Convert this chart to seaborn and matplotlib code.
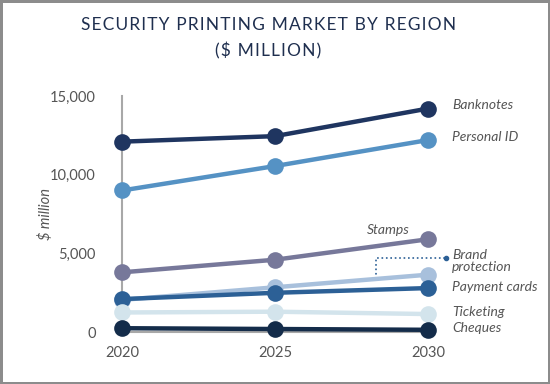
import matplotlib
matplotlib.use("Agg")
import matplotlib.pyplot as plt
import seaborn as sns
import numpy as np
import pandas as pd

### chart data
years = [2020, 2025, 2030]
segments = ["Banknotes", "Personal ID", "Stamps", "Brand protection",
            "Payment cards", "Ticketing", "Cheques"]
banknotes = [12100, 12450, 14200]
personal_id = [9000, 10550, 12200]
stamps = [3800, 4600, 5900]
brand_protection = [2050, 2850, 3650]
payment_cards = [2100, 2500, 2800]
ticketing = [1250, 1300, 1150]
cheques = [250, 200, 150]
colors = ["#1f3560", "#5592c4", "#77789a", "#a8c0dc", "#2c6096", "#d3e4ec", "#142c4a"]
y_ticks = [0, 5000, 10000, 15000]
title_lines = ["SECURITY PRINTING MARKET BY REGION", "($ MILLION)"]

series = [banknotes, personal_id, stamps, brand_protection, payment_cards, ticketing, cheques]
df = pd.DataFrame({
    "year": years * len(segments),
    "segment": [s for s in segments for _ in years],
    "value": [v for vals in series for v in vals],
})

sns.set_style("white")
plt.rcParams["font.family"] = ["Lato", "DejaVu Sans"]

fig = plt.figure(figsize=(5.5, 3.84), dpi=100)
fig.patch.set_edgecolor("#8c8c8c")
fig.patch.set_linewidth(2.5)
ax = fig.add_axes([0.222, 0.135, 0.556, 0.615])

sns.lineplot(data=df, x="year", y="value", hue="segment", hue_order=segments,
             palette=colors, marker="o", markersize=12, markeredgewidth=0,
             linewidth=3.2, legend=False, ax=ax)
for line in ax.lines:
    line.set_clip_on(False)
    line.set_zorder(3)

ax.set_xlim(2020, 2030)
ax.set_ylim(0, 15000)
ax.set_xticks(years)
ax.set_yticks(y_ticks)
ax.set_yticklabels([f"{t:,}" for t in y_ticks])
ax.tick_params(axis="x", length=0, pad=10, labelsize=10.5, colors="#555555")
ax.tick_params(axis="y", direction="in", length=5, width=1, color="#a0a0a0",
               pad=19, labelsize=10.5, labelcolor="#555555")
ax.set_xlabel("")
ax.set_ylabel("$ million", fontsize=10.5, style="italic", color="#555555", labelpad=-2)
for side in ["top", "right"]:
    ax.spines[side].set_visible(False)
for side in ["left", "bottom"]:
    ax.spines[side].set_color("#a8a8a8")
    ax.spines[side].set_linewidth(1.5)
    ax.spines[side].set_zorder(1)

# series labels at the right
lab = dict(fontsize=10, style="italic", color="#555555", va="center")
ax.text(2030.8, banknotes[-1] + 200, "Banknotes", **lab)
ax.text(2030.8, personal_id[-1] + 200, "Personal ID", **lab)
ax.text(2029.4, stamps[-1] + 600, "Stamps", ha="right", **lab)
ax.text(2030.8, 4550, "Brand\nprotection", linespacing=1.0, **lab)
ax.text(2030.8, payment_cards[-1] + 50, "Payment cards", **lab)
ax.text(2030.8, ticketing[-1] + 100, "Ticketing", **lab)
ax.text(2030.8, cheques[-1] + 100, "Cheques", **lab)

# dotted leader for brand protection
x_lead = 2028.3
y_lead = np.interp(x_lead, years, brand_protection)
ax.plot([x_lead, x_lead, 2030.6], [y_lead, 4700, 4700], ls=":", lw=1.2,
        color="#2c6096", clip_on=False)
ax.plot([2030.6], [4700], "o", ms=3, color="#2c6096", clip_on=False)

# letter-spaced title
spaced = ["\u200a".join(t) for t in title_lines]
fig.text(0.488, 0.935, spaced[0], ha="center", va="center",
         fontsize=12.5, color="#1f2f4f")
fig.text(0.488, 0.868, spaced[1], ha="center", va="center",
         fontsize=12.5, color="#1f2f4f")

fig.savefig("out.png", dpi=100, edgecolor=fig.get_edgecolor())
